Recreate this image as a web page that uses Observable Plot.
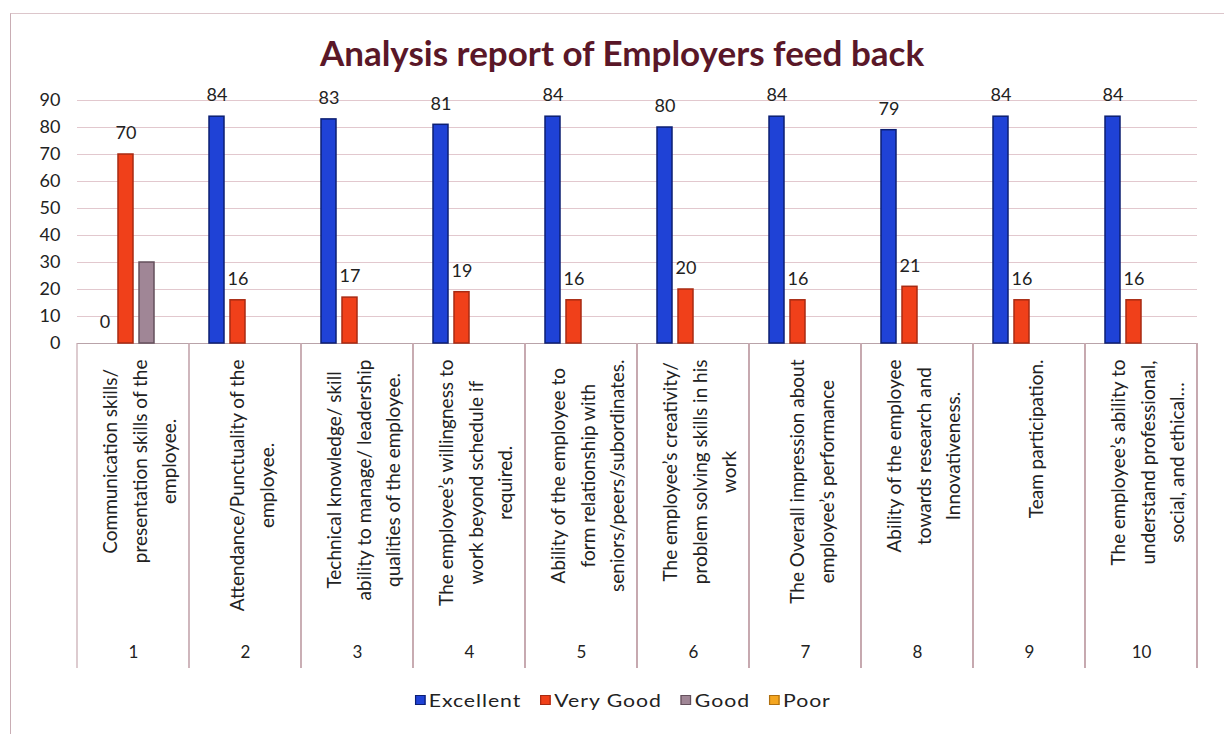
<!DOCTYPE html>
<html>
<head>
<meta charset="utf-8">
<script src="https://cdn.jsdelivr.net/npm/d3@7"></script>
<script src="https://cdn.jsdelivr.net/npm/@observablehq/plot@0.6"></script>
<style>
  body { margin: 0; background: #fff; font-family: Lato, "Open Sans", sans-serif; }
  #wrap { position: relative; width: 1224px; height: 734px; overflow: hidden; }
  #border { position: absolute; left: 10px; top: 13px; width: 1214px; height: 721px;
            border-left: 1.5px solid #c9adb4; border-top: 1px solid #dcc6cb; box-sizing: border-box; }
  #title { position: absolute; top: 30px; left: 10px; width: 1224px; text-align: center;
           font-size: 35px; font-weight: bold; color: #5a1728; line-height: 44px; }
  #chart { position: absolute; top: 80px; left: 0; }
  #legend { position: absolute; top: 688px; left: 13px; width: 1224px; height: 24px;
            display: flex; justify-content: center; align-items: center; gap: 16px;
            font-size: 18px; letter-spacing: 0.8px; color: #222;
            transform: scaleX(1.18); transform-origin: 625px 12px; }
  .item { display: flex; align-items: center; gap: 3px; }
  .sw { width: 9px; height: 10px; box-sizing: border-box; border: 1.5px solid; }
</style>
</head>
<body>
<div id="wrap">
  <div id="border"></div>
  <div id="title">Analysis report of Employers feed back</div>
  <div id="chart"></div>
  <div id="legend"></div>
</div>
<script>
const categories = ["1", "2", "3", "4", "5", "6", "7", "8", "9", "10"];
const categoryLabels = [
  "Communication skills/\npresentation skills of the\nemployee.",
  "Attendance/Punctuality of the\nemployee.",
  "Technical knowledge/ skill\nability to manage/ leadership\nqualities of the employee.",
  "The employee\u2019s willingness to\nwork beyond schedule if\nrequired.",
  "Ability of the employee to\nform relationship with\nseniors/peers/subordinates.",
  "The employee\u2019s creativity/\nproblem solving skills in his\nwork",
  "The Overall impression about\nemployee\u2019s performance",
  "Ability of the employee\ntowards research and\nInnovativeness.",
  "Team participation.",
  "The employee\u2019s ability to\nunderstand professional,\nsocial, and ethical\u2026"
];
const seriesNames = ["Excellent", "Very Good", "Good", "Poor"];
const seriesFill = ["#1f42d6", "#f0401a", "#a08696", "#f4a620"];
const seriesStroke = ["#0c1f72", "#a82a12", "#64505c", "#b07010"];
const excellent = [0, 84, 83, 81, 84, 80, 84, 79, 84, 84];
const veryGood  = [70, 16, 17, 19, 16, 20, 16, 21, 16, 16];
const good      = [30, 0, 0, 0, 0, 0, 0, 0, 0, 0];
const poor      = [0, 0, 0, 0, 0, 0, 0, 0, 0, 0];
const yTicks = [0, 10, 20, 30, 40, 50, 60, 70, 80, 90];
const labelledSeries = ["Excellent", "Very Good"];

const seriesValues = [excellent, veryGood, good, poor];
const rows = [];
categories.forEach((c, i) => {
  seriesNames.forEach((s, j) => rows.push({cat: c, series: s, value: seriesValues[j][i]}));
});
const fillOf = Object.fromEntries(seriesNames.map((s, j) => [s, seriesFill[j]]));
const strokeOf = Object.fromEntries(seriesNames.map((s, j) => [s, seriesStroke[j]]));

const separatorLength = 325;

const chart = Plot.plot({
  width: 1224,
  height: 600,
  marginTop: 20,
  marginBottom: 337,
  marginLeft: 77,
  marginRight: 27,
  style: {fontFamily: "Lato, 'Open Sans', sans-serif", fontSize: "17px", color: "#222", background: "transparent"},
  fx: {domain: categories, padding: 0, axis: null},
  x: {domain: seriesNames, paddingInner: 0.28, paddingOuter: 0.75, align: 0.6, axis: null},
  y: {domain: [0, 90], axis: null},
  marks: [
    Plot.gridY(yTicks.filter(t => t > 0), {stroke: "#e2c8ce", strokeOpacity: 1, strokeWidth: 1}),
    Plot.ruleY([0], {stroke: "#b9a3a9", strokeWidth: 1.2}),
    Plot.axisY(yTicks, {tickSize: 0, tickPadding: 17, fontSize: 18, fill: "#222", label: null}),
    Plot.barY(rows.filter(d => d.value > 0), {
      fx: "cat", x: "series", y: "value",
      fill: d => fillOf[d.series], stroke: d => strokeOf[d.series], strokeWidth: 1.5
    }),
    Plot.text(rows.filter(d => labelledSeries.includes(d.series)), {
      fx: "cat", x: "series", y: "value", text: d => String(d.value),
      dy: -21, fontSize: 18, fill: "#222"
    }),
    Plot.text(categories, {
      fx: d => d, text: (d, i) => categoryLabels[i],
      frameAnchor: "bottom", rotate: -90, textAnchor: "middle", lineAnchor: "middle",
      lineHeight: 1.55, dy: 16, dx: 4, fontSize: 19, fill: "#222"
    }),
    Plot.text(categories, {
      fx: d => d, text: d => d, frameAnchor: "bottom", dy: 314, fontSize: 17, fill: "#222"
    }),
    (index, scales, values, dimensions) => {
      const {width, height, marginLeft, marginRight, marginBottom} = dimensions;
      const y1 = height - marginBottom;
      let edges;
      if (scales.fx) {
        const fx = scales.fx;
        const dom = fx.domain();
        edges = dom.map(d => fx(d));
        edges.push(fx(dom[dom.length - 1]) + fx.bandwidth());
      } else {
        const step = (width - marginLeft - marginRight) / categories.length;
        edges = d3.range(categories.length + 1).map(i => marginLeft + i * step);
      }
      const g = d3.create("svg:g");
      g.selectAll("line").data(edges).join("line")
        .attr("x1", d => d).attr("x2", d => d)
        .attr("y1", y1).attr("y2", y1 + separatorLength)
        .attr("stroke", "#c6a9b0").attr("stroke-width", 1.2);
      return g.node();
    }
  ]
});
document.getElementById("chart").appendChild(chart);

// Excel-style placement: the longest line of each rotated label ends just below the axis,
// lines are centred on one another.
const flatLabels = new Set(categoryLabels.map(l => l.replace(/\n/g, "")));
chart.querySelectorAll("text").forEach(t => {
  if (!flatLabels.has(t.textContent)) return;
  let w = 0;
  const spans = t.querySelectorAll("tspan");
  if (spans.length) spans.forEach(s => { w = Math.max(w, s.getComputedTextLength()); });
  else w = t.getComputedTextLength();
  if (!w) w = t.getBBox().width;
  const tr = t.getAttribute("transform") || "";
  t.setAttribute("transform", tr + ` translate(${-w / 2},0)`);
});

const legend = document.getElementById("legend");
seriesNames.forEach((s, j) => {
  const item = document.createElement("div");
  item.className = "item";
  const sw = document.createElement("span");
  sw.className = "sw";
  sw.style.background = seriesFill[j];
  sw.style.borderColor = seriesStroke[j];
  const lab = document.createElement("span");
  lab.textContent = s;
  item.appendChild(sw); item.appendChild(lab);
  legend.appendChild(item);
});
</script>
</body>
</html>
